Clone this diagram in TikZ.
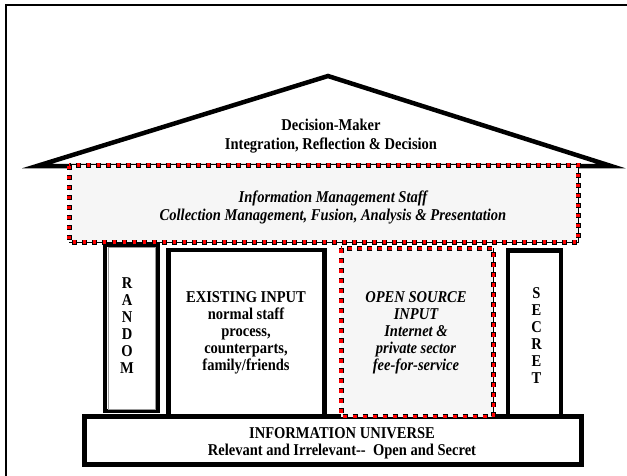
\documentclass[tikz,border=0pt]{standalone}
\usepackage{fontspec}
\setmainfont{Liberation Serif}[FakeStretch=0.88]
\definecolor{chainred}{RGB}{255,0,0}
\definecolor{boxgray}{RGB}{246,246,246}

\begin{document}
\begin{tikzpicture}[x=1pt, y=-1pt,
  chain box/.style={fill=boxgray, draw=black, line width=5pt, dash pattern=on 5pt off 5pt,
    preaction={fill=boxgray, draw=black, line width=1pt, solid},
    postaction={draw=chainred, line width=3.4pt, dash pattern=on 3.4pt off 6.6pt, dash phase=9.2pt}},
  label text/.style={font=\bfseries\fontsize{16.5}{17}\selectfont, align=center, inner sep=0pt},
  wide text/.style={label text, font=\bfseries\fontsize{16.5}{18.7}\selectfont}]
\useasboundingbox (0,0) rectangle (627,475);
\draw [line width=2pt] (6,480) -- (6,5) -- (630,5);

% roof
\draw [line width=4.5pt, line join=miter] (37,166) -- (328,76) -- (611,166) -- cycle;

% pillars
\draw [line width=4pt] (105.3,245) rectangle (158,411);
\draw [black!40, line width=0.6pt] (108.5,247.5) rectangle (155,409);
\draw [line width=4.5pt] (168.5,250) rectangle (324.5,416);
\draw [line width=4.5pt] (508,250.5) rectangle (561,416);

% base
\draw [line width=5pt, fill=white] (84.5,416.5) rectangle (581.5,464.5);

\draw [chain box] (341,248.3) rectangle (493.3,416.7);
\draw [chain box] (69,165) rectangle (578,242);

\node (roof) [wide text] at (331,136) {Decision-Maker\\Integration, Reflection \& Decision};
\node (staff) [wide text] at (333,207.5) {\itshape Information Management Staff\\\itshape Collection Management, Fusion, Analysis \& Presentation};
\node (random) [label text] at (127,325.5) {R\\A\\N\\D\\O\\M};
\node (existing) [label text] at (246,332.5) {EXISTING INPUT\\normal staff\\process,\\counterparts,\\family/friends};
\node (open) [label text] at (416,332.5) {\itshape OPEN SOURCE\\\itshape INPUT\\\itshape Internet \&\\\itshape private sector\\\itshape fee-for-service};
\node (secret) [label text] at (536.5,336) {S\\E\\C\\R\\E\\T};
\node (universe) [label text] at (342,443.5) {INFORMATION UNIVERSE\\Relevant and Irrelevant-{}-\ \ Open and Secret};

\end{tikzpicture}
\end{document}
